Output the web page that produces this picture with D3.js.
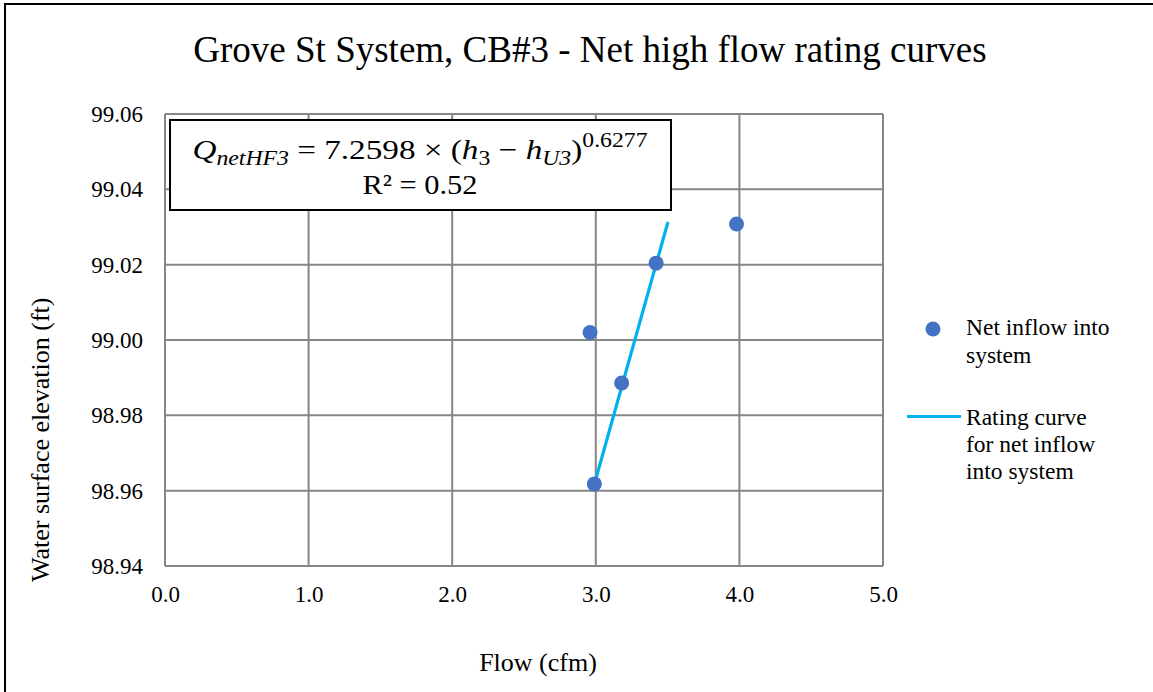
<!DOCTYPE html>
<html>
<head>
<meta charset="utf-8">
<script src="https://cdn.jsdelivr.net/npm/d3@7"></script>
<style>
  html, body { margin: 0; padding: 0; background: #fff; }
  svg { display: block; }
  text { font-family: "Liberation Serif", "Times New Roman", serif; fill: #000; }
</style>
</head>
<body>
<svg id="chart" width="1153" height="692"></svg>
<script>
// ---- data ----
const flowObserved = [2.96, 3.18, 3.42, 3.98, 2.99];
const elevObserved = [99.002, 98.9886, 99.0204, 99.0308, 98.9618];
const flowCurve = [2.99, 3.50];
const elevCurve = [98.9617, 99.031];
const xTicks = [0, 1, 2, 3, 4, 5];
const yTicks = [98.94, 98.96, 98.98, 99.00, 99.02, 99.04, 99.06];
const titleText = "Grove St System, CB#3 - Net high flow rating curves";
const xLabel = "Flow (cfm)";
const yLabel = "Water surface elevation (ft)";
const legendLabels = [["Net inflow into", "system"], ["Rating curve", "for net inflow", "into system"]];

const svg = d3.select("#chart");
const W = 1153, H = 692;
const plot = { left: 165, right: 883, top: 114, bottom: 566 };
const SERIF = "'Liberation Serif', 'Times New Roman', serif";

// outer frame
svg.append("rect").attr("x", 5).attr("y", 4).attr("width", W + 20).attr("height", H + 20)
  .attr("fill", "none").attr("stroke", "#000").attr("stroke-width", 2);

const x = d3.scaleLinear().domain([0, 5]).range([plot.left, plot.right]);
const y = d3.scaleLinear().domain([98.94, 99.06]).range([plot.bottom, plot.top]);

// gridlines
const grid = svg.append("g");
grid.selectAll("line.v").data(xTicks).join("line")
  .attr("x1", d => x(d)).attr("x2", d => x(d))
  .attr("y1", plot.top).attr("y2", plot.bottom)
  .attr("stroke", "#868686").attr("stroke-width", 2);
grid.selectAll("line.h").data(yTicks).join("line")
  .attr("x1", plot.left).attr("x2", plot.right)
  .attr("y1", d => y(d)).attr("y2", d => y(d))
  .attr("stroke", "#868686").attr("stroke-width", 2);

// tick labels via d3 axes
const xAxis = d3.axisBottom(x).tickValues(xTicks).tickFormat(d3.format(".1f")).tickSize(0).tickPadding(20);
const gx = svg.append("g").attr("transform", `translate(0,${plot.bottom})`).call(xAxis);
gx.select(".domain").remove();
gx.attr("font-family", SERIF);
gx.selectAll("text").attr("font-size", 23).attr("fill", "#000");

const yAxis = d3.axisLeft(y).tickValues(yTicks).tickFormat(d3.format(".2f")).tickSize(0).tickPadding(22);
const gy = svg.append("g").attr("transform", `translate(${plot.left},0)`).call(yAxis);
gy.select(".domain").remove();
gy.attr("font-family", SERIF);
gy.selectAll("text").attr("font-size", 23).attr("fill", "#000");

// rating curve
const line = d3.line().x(d => x(d[0])).y(d => y(d[1]));
svg.append("path").datum(flowCurve.map((f, i) => [f, elevCurve[i]]))
  .attr("d", line).attr("fill", "none").attr("stroke", "#00B0F0").attr("stroke-width", 3.2)
  .attr("stroke-linecap", "round");

// points
svg.append("g").selectAll("circle").data(flowObserved.map((f, i) => [f, elevObserved[i]])).join("circle")
  .attr("cx", d => x(d[0])).attr("cy", d => y(d[1])).attr("r", 7.5)
  .attr("fill", "#4472C4");

// equation box
const eq = svg.append("g");
eq.append("rect").attr("x", 170).attr("y", 120).attr("width", 501).attr("height", 90)
  .attr("fill", "#fff").attr("stroke", "#000").attr("stroke-width", 2);
const eqText = eq.append("text").attr("x", 420).attr("y", 159).attr("text-anchor", "middle")
  .attr("font-size", 28).attr("textLength", 455).attr("lengthAdjust", "spacingAndGlyphs");
eqText.append("tspan").attr("font-style", "italic").text("Q");
eqText.append("tspan").attr("font-style", "italic").attr("font-size", 20).attr("dy", 6).text("netHF3");
eqText.append("tspan").attr("dy", -6).text(" = 7.2598 × (");
eqText.append("tspan").attr("font-style", "italic").text("h");
eqText.append("tspan").attr("font-size", 20).attr("dy", 6).text("3");
eqText.append("tspan").attr("dy", -6).text(" − ");
eqText.append("tspan").attr("font-style", "italic").text("h");
eqText.append("tspan").attr("font-style", "italic").attr("font-size", 20).attr("dy", 6).text("U3");
eqText.append("tspan").attr("dy", -6).text(")");
eqText.append("tspan").attr("font-size", 20).attr("dy", -12).text("0.6277");
eq.append("text").attr("x", 420).attr("y", 194).attr("text-anchor", "middle")
  .attr("font-size", 28).attr("textLength", 115).attr("lengthAdjust", "spacingAndGlyphs").text("R² = 0.52");

// title
svg.append("text").attr("x", 590).attr("y", 62).attr("text-anchor", "middle")
  .attr("font-size", 37).text(titleText);

// axis titles
svg.append("text").attr("x", 538).attr("y", 671).attr("text-anchor", "middle")
  .attr("font-size", 26).text(xLabel);
svg.append("text").attr("transform", "translate(49,582) rotate(-90)").attr("text-anchor", "start")
  .attr("font-size", 26).text(yLabel);

// legend
const lg = svg.append("g");
lg.append("circle").attr("cx", 933).attr("cy", 329).attr("r", 7.5).attr("fill", "#4472C4");
legendLabels[0].forEach((t, i) => {
  lg.append("text").attr("x", 966).attr("y", 335 + i * 28).attr("font-size", 23.5).text(t);
});
lg.append("line").attr("x1", 907).attr("x2", 961).attr("y1", 416.5).attr("y2", 416.5)
  .attr("stroke", "#00B0F0").attr("stroke-width", 3.2);
legendLabels[1].forEach((t, i) => {
  lg.append("text").attr("x", 966).attr("y", 425 + i * 27).attr("font-size", 23.5).text(t);
});
</script>
</body>
</html>
